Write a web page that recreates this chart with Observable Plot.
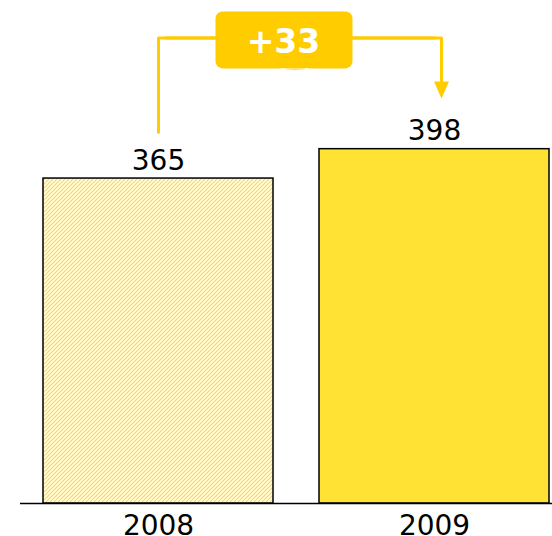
<!DOCTYPE html>
<html><head><meta charset="utf-8">
<script src="https://cdn.jsdelivr.net/npm/d3@7"></script>
<script src="https://cdn.jsdelivr.net/npm/@observablehq/plot@0.6"></script>
<style>body{margin:0;background:#fff} #chart{width:552px;height:536px}</style>
</head><body><div id="chart"></div>
<script>
const years = ["2008", "2009"];
const values = [365, 398];
const data = years.map((year, i) => ({year, value: values[i]}));
const diff = values[1] - values[0];
const diffLabel = (diff > 0 ? "+" : "") + diff;

// bracket annotation heights, in data units
const bracketTop = 523;
const bracketStart = values[0] + 52;
const arrowTip = values[1] + 57;

const leftPath = [{x: years[0], y: bracketStart}, {x: years[0], y: bracketTop}, {x: years[1], y: bracketTop}];
const rightPath = [{x: years[0], y: bracketTop}, {x: years[1], y: bracketTop}, {x: years[1], y: arrowTip + 10}];

const arrowSymbol = {draw(ctx) { ctx.moveTo(0, 0); ctx.lineTo(-7.5, -17); ctx.lineTo(7.5, -17); ctx.closePath(); }};
const badgeSymbol = {draw(ctx) {
  const w = 68.5, h = 28.5, r = 7;
  ctx.moveTo(-w + r, -h); ctx.lineTo(w - r, -h); ctx.arcTo(w, -h, w, -h + r, r);
  ctx.lineTo(w, h - r); ctx.arcTo(w, h, w - r, h, r);
  ctx.lineTo(-w + r, h); ctx.arcTo(-w, h, -w, h - r, r);
  ctx.lineTo(-w, -h + r); ctx.arcTo(-w, -h, -w + r, -h, r); ctx.closePath();
  ctx.moveTo(-4, h - 0.5); ctx.quadraticCurveTo(11, h + 3, 26, h - 0.5); ctx.closePath();
}};

const gold = "#FFCC00";

const svg = Plot.plot({
  width: 552, height: 536,
  marginTop: 0, marginBottom: 33, marginLeft: 20, marginRight: 0,
  style: {fontFamily: "DejaVu Sans", fontSize: "28px", background: "white", overflow: "visible", color: "black"},
  x: {domain: years, paddingInner: 0.1667, paddingOuter: 0.047, align: 0.885, label: null, tickSize: 0, tickPadding: 12},
  y: {domain: [0, 565], axis: null},
  marks: [
    Plot.barY(data, {filter: d => d.year === years[0], x: "year", y: "value", fill: "url(#hatch)", stroke: "black", strokeWidth: 1.5}),
    Plot.barY(data, {filter: d => d.year === years[1], x: "year", y: "value", fill: "#FFE234", stroke: "black", strokeWidth: 1.5}),
    Plot.ruleY([0], {stroke: "black", strokeWidth: 1.5}),
    Plot.text(data, {x: "year", y: "value", text: d => String(d.value), lineAnchor: "bottom", dy: -9, fontSize: 28, fill: "black"}),
    Plot.line(leftPath, {x: "x", y: "y", stroke: gold, strokeWidth: 3}),
    Plot.line(rightPath, {x: "x", y: "y", stroke: gold, strokeWidth: 3, dx: 7}),
    Plot.dot([arrowTip], {x: () => years[1], y: d => d, dx: 7, symbol: arrowSymbol, fill: gold, stroke: "none", r: 5}),
    Plot.dot([diff], {y: () => bracketTop, dx: -2.5, dy: 2, symbol: badgeSymbol, fill: gold, stroke: "none", r: 10}),
    Plot.text([diffLabel], {y: () => bracketTop, text: d => d, dx: -3, dy: 5, fontSize: 33, fontWeight: "bold", fill: "white"})
  ]
});

const ns = "http://www.w3.org/2000/svg";
const defs = document.createElementNS(ns, "defs");
const pat = document.createElementNS(ns, "pattern");
pat.setAttribute("id", "hatch");
pat.setAttribute("patternUnits", "userSpaceOnUse");
pat.setAttribute("width", "4");
pat.setAttribute("height", "4");
const bg = document.createElementNS(ns, "rect");
bg.setAttribute("width", "4"); bg.setAttribute("height", "4"); bg.setAttribute("fill", "#FFFDF0");
const p = document.createElementNS(ns, "path");
p.setAttribute("d", "M-1,1 l2,-2 M0,4 l4,-4 M3,5 l2,-2");
p.setAttribute("stroke", "#FFDA40");
p.setAttribute("stroke-width", "1.1");
pat.appendChild(bg); pat.appendChild(p);
defs.appendChild(pat);
svg.insertBefore(defs, svg.firstChild);
document.getElementById("chart").appendChild(svg);
</script>
</body></html>
